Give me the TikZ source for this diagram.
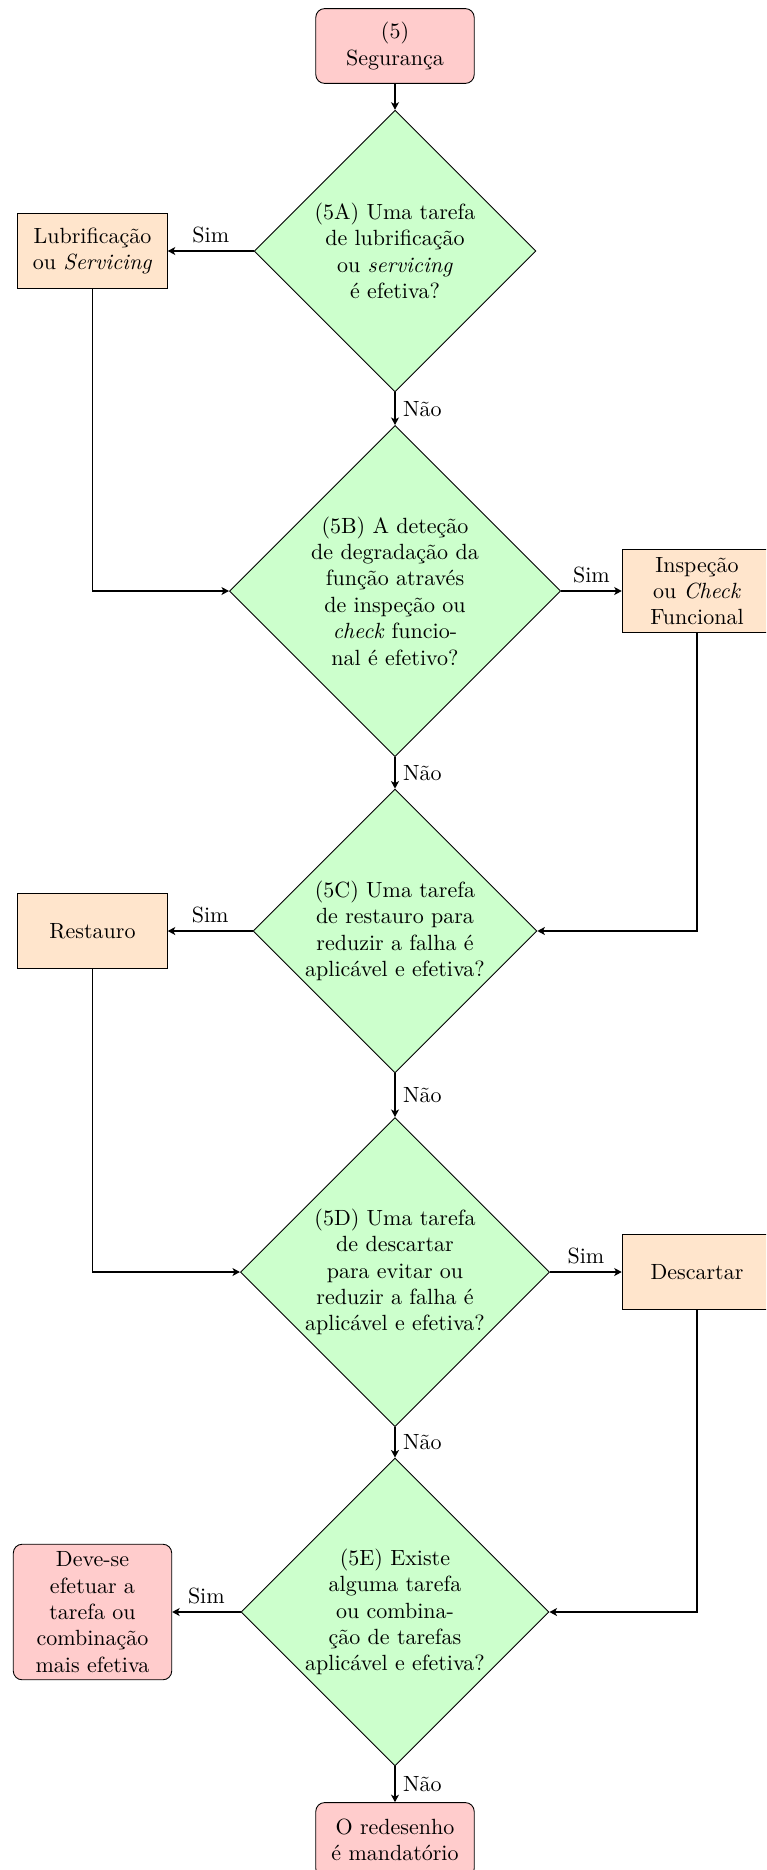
\documentclass[tikz,border=0pt]{standalone}
\usetikzlibrary{shapes.geometric, arrows.meta}

\tikzset{
  decision/.style={diamond, aspect=1, draw, thin, fill=green!20, inner sep=0pt, align=center},
  action/.style={rectangle, draw, thin, fill=orange!20, minimum width=68pt, minimum height=34pt, align=center},
  terminal/.style={rectangle, rounded corners=4pt, draw, thin, fill=red!20, minimum width=72pt, minimum height=34pt, align=center},
  flow/.style={-{Stealth[length=3.4pt, width=3.6pt, inset=0.9pt]}, thick},
  lbl/.style={midway, font=\normalsize}
}

\begin{document}
\begin{tikzpicture}[x=0.4545pt, y=-0.4545pt]
  \clip (0,0) rectangle (766,1870);

  % nodes
  \node[terminal] (seg) at (395,46) {(5)\\Segurança};
  \node[decision, minimum size=128pt] (q5a) at (395,251)
    {(5A) Uma tarefa\\de lubrificação\\ou \textit{servicing}\\é efetiva?};
  \node[action] (lub) at (92.5,251) {Lubrificação\\ou \textit{Servicing}};

  \node[decision, minimum size=150.5pt] (q5b) at (395,591)
    {(5B) A deteção\\de degradação da\\função através\\de inspeção ou\\\textit{check} funcio-\\nal é efetivo?};
  \node[action] (insp) at (697,591) {Inspeção\\ou \textit{Check}\\Funcional};

  \node[decision, minimum size=129pt] (q5c) at (395,931)
    {(5C) Uma tarefa\\de restauro para\\reduzir a falha é\\aplicável e efetiva?};
  \node[action] (rest) at (92.5,931) {Restauro};

  \node[decision, minimum size=140.5pt] (q5d) at (395,1272)
    {(5D) Uma tarefa\\de descartar\\para evitar ou\\reduzir a falha é\\aplicável e efetiva?};
  \node[action] (desc) at (697,1272) {Descartar};

  \node[decision, minimum size=140pt] (q5e) at (395,1612)
    {(5E) Existe\\alguma tarefa\\ou combina-\\ção de tarefas\\aplicável e efetiva?};
  \node[terminal] (deve) at (92.5,1612) {Deve-se\\efetuar a\\tarefa ou\\combinação\\mais efetiva};

  \node[terminal] (redes) at (395,1840) {O redesenho\\é mandatório};

  % connectors
  \draw[flow] (seg) -- (q5a);
  \draw[flow] (q5a) -- node[lbl, above] {Sim} (lub);
  \draw[flow] (q5a) -- node[lbl, right] {Não} (q5b);
  \draw[flow] (lub) |- (q5b);
  \draw[flow] (q5b) -- node[lbl, above] {Sim} (insp);
  \draw[flow] (q5b) -- node[lbl, right] {Não} (q5c);
  \draw[flow] (insp) |- (q5c);
  \draw[flow] (q5c) -- node[lbl, above] {Sim} (rest);
  \draw[flow] (q5c) -- node[lbl, right] {Não} (q5d);
  \draw[flow] (rest) |- (q5d);
  \draw[flow] (q5d) -- node[lbl, above] {Sim} (desc);
  \draw[flow] (q5d) -- node[lbl, right] {Não} (q5e);
  \draw[flow] (desc) |- (q5e);
  \draw[flow] (q5e) -- node[lbl, above] {Sim} (deve);
  \draw[flow] (q5e) -- node[lbl, right] {Não} (redes);
\end{tikzpicture}
\end{document}
